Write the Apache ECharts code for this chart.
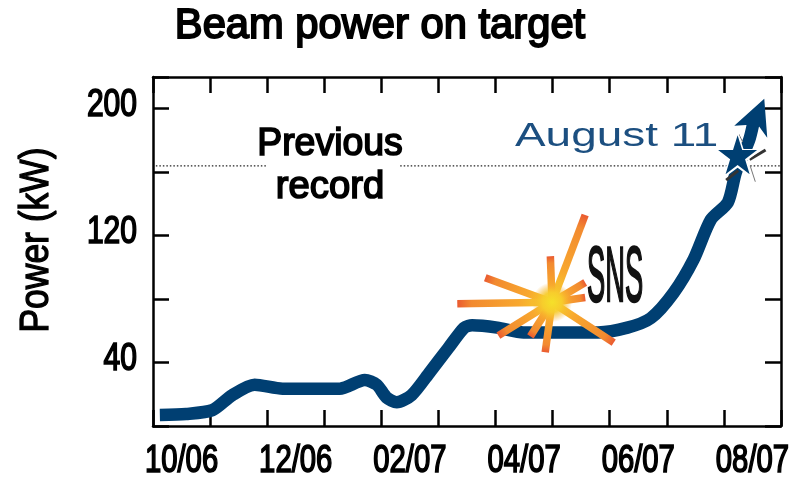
<!DOCTYPE html>
<html><head><meta charset="utf-8">
<style>html,body{margin:0;padding:0;background:#fff}#c{width:803px;height:478px}</style>
<script src="https://cdn.jsdelivr.net/npm/echarts@6/dist/echarts.min.js"></script>
</head><body><div id="c"></div>
<script>
var months = ['10/06','11/06','12/06','01/07','02/07','03/07','04/07','05/07','06/07','07/07','08/07'];
var yTickValues = [40,120,200];
var yTickLabels = ['40','120','200'];
// months since start of 10/06, power in kW
var powerX = [0.12,0.58,1.04,1.39,1.78,2.27,3.27,3.71,3.92,4.09,4.27,4.53,4.85,5.17,5.45,5.59,6.03,6.49,7.79,8.31,8.72,9.12,9.47,9.77,10.07,10.21,10.44,10.51];
var powerY = [7,7.6,10,19.5,26,23.5,23.5,29,26,18,15,19.5,34,49,62,63.5,62,59,59,62,68,84,105,130,141,160,180,190];
var recordX = [0.05,1.99,null,4.33,11];
var recordY = [164,164,null,164,164];
var arrowHead = [[10.47,194]];
var starPoint = [[10.24,171]];
var rayCenter = [6.99,78];
var rayX = [7.57,6.96,5.82,5.33,6.05,6.61,6.87,8.07,7.57,7.57];
var rayY = [133,107,93.5,77,57,56.5,46.5,52.5,81,90.5];
var shardStartX = [10.04,10.45,10.26,10.46];
var shardStartY = [155,168,184,164];
var shardEndX = [10.25,10.73,10.33,10.55];
var shardEndY = [161,174,179,154];
var shardWidth = [3,3,1,1];
var starPath = 'path://M50,0 L61.8,36.3 L100,36.3 L69.1,58.8 L80.9,95.1 L50,72.6 L19.1,95.1 L30.9,58.8 L0,36.3 L38.2,36.3 Z';
var arrowPath = 'path://M91,0 L100,100 L76,72 L36,67 L0,69 Z';
var NAVY='#003f72', SANS='"Liberation Sans",Arial,sans-serif';
var chart = echarts.init(document.getElementById('c'),null,{renderer:'canvas'});
function axisLine(){return {show:true,onZero:false,lineStyle:{color:'#000',width:2.5}};}
function ticks(){return {show:true,inside:true,length:16,lineStyle:{color:'#000',width:2.5}};}
function label(text,size,w,align){return {text:text,fill:'#000',stroke:'#000',lineWidth:w,font:size+'px '+SANS,align:align||'center',verticalAlign:'middle'};}
chart.setOption({
  animation:false,
  backgroundColor:'#fff',
  grid:{left:153,right:22,top:77,bottom:52},
  xAxis:[
    {type:'category',data:months,position:'bottom',boundaryGap:true,axisLine:axisLine(),axisTick:ticks(),axisLabel:{show:false},splitLine:{show:false}},
    {type:'value',min:0,max:11,interval:1,position:'top',axisLine:axisLine(),axisTick:ticks(),axisLabel:{show:false},splitLine:{show:false}}
  ],
  yAxis:[
    {type:'value',min:0,max:220,interval:40,position:'left',axisLine:axisLine(),axisTick:ticks(),axisLabel:{show:false},splitLine:{show:false}},
    {type:'value',min:0,max:220,interval:40,position:'right',axisLine:axisLine(),axisTick:ticks(),axisLabel:{show:false},splitLine:{show:false}}
  ],
  series:[
    {type:'custom',name:'Month labels',xAxisIndex:0,yAxisIndex:0,silent:true,z:20,
     data:months.map(function(m,i){return [i,0];}).filter(function(d){return d[0]%2===0;}),
     renderItem:function(p,api){var c=api.coord([api.value(0),0]);
       return {type:'text',x:c[0],y:c[1]+36,scaleX:0.77,style:label(months[api.value(0)],38,1.7)};}},
    {type:'custom',name:'Power labels',xAxisIndex:1,yAxisIndex:0,silent:true,z:20,
     data:yTickValues.map(function(v,i){return [0,v,i];}),
     renderItem:function(p,api){var c=api.coord([0,api.value(1)]);
       return {type:'text',x:c[0]-16,y:c[1]-3,scaleX:0.79,style:label(yTickLabels[api.value(2)],38,1.7,'right')};}},
    {type:'line',name:'Previous record',xAxisIndex:1,yAxisIndex:0,data:recordX.map(function(x,i){return x===null?null:[x,recordY[i]];}),connectNulls:false,symbol:'none',lineStyle:{color:'#222',width:1.2,type:[1.5,2]},z:2},
    {type:'line',name:'Power',xAxisIndex:1,yAxisIndex:0,data:powerX.map(function(x,i){return [x,powerY[i]];}),smooth:0.25,symbol:'none',lineStyle:{color:NAVY,width:12.5,cap:'butt',join:'round'},z:3},
    {type:'scatter',name:'Arrow',xAxisIndex:1,yAxisIndex:0,data:arrowHead,symbol:arrowPath,symbolSize:[33,39],itemStyle:{color:NAVY,opacity:1},z:4},
    {type:'custom',name:'SNS burst',xAxisIndex:1,yAxisIndex:0,z:5,
     data:rayX.map(function(x,i){return [x,rayY[i]];}),
     renderItem:function(p,api){
       var c=api.coord(rayCenter), e=api.coord([api.value(0),api.value(1)]);
       return {type:'line',shape:{x1:c[0],y1:c[1],x2:e[0],y2:e[1]},style:{lineWidth:7.5,stroke:{type:'linear',x:c[0],y:c[1],x2:e[0],y2:e[1],global:true,colorStops:[{offset:0,color:'#f6d92c'},{offset:0.35,color:'#f8a82e'},{offset:0.85,color:'#f28a30'},{offset:1,color:'#ea5a30'}]}}};
     }},
    {type:'scatter',name:'Burst core',xAxisIndex:1,yAxisIndex:0,data:[rayCenter],symbol:'circle',symbolSize:40,z:6,
     itemStyle:{opacity:1,color:{type:'radial',x:0.5,y:0.5,r:0.5,colorStops:[{offset:0,color:'#f5e02a'},{offset:0.5,color:'rgba(247,205,44,0.95)'},{offset:1,color:'rgba(247,170,44,0)'}]}}},
    {type:'custom',name:'Star shards',xAxisIndex:1,yAxisIndex:0,z:7,
     data:shardStartX.map(function(x,i){return [x,shardStartY[i],shardEndX[i],shardEndY[i],shardWidth[i]];}),
     renderItem:function(p,api){var a=api.coord([api.value(0),api.value(1)]),b=api.coord([api.value(2),api.value(3)]);
       return {type:'line',shape:{x1:a[0],y1:a[1],x2:b[0],y2:b[1]},style:{stroke:api.value(4)>2?'#333':'#777',lineWidth:api.value(4)}};}},
    {type:'scatter',name:'Star outline',xAxisIndex:1,yAxisIndex:0,data:starPoint,symbol:starPath,symbolSize:[50,49],itemStyle:{color:'#fff',opacity:1},z:8},
    {type:'scatter',name:'August 11 star',xAxisIndex:1,yAxisIndex:0,data:starPoint,symbol:starPath,symbolSize:[39,39],itemStyle:{color:NAVY,opacity:1},z:9}
  ],
  graphic:[
    {type:'text',x:380,y:26,scaleX:0.97,z:20,style:label('Beam power on target',43,1.9)},
    {type:'text',x:37,y:240,rotation:Math.PI/2,scaleX:0.865,z:20,style:label('Power (kW)',41,1.3)},
    {type:'text',x:330,y:144,scaleX:0.96,z:20,style:label('Previous',39,1.7)},
    {type:'text',x:330,y:187,scaleX:0.98,z:20,style:label('record',39,1.7)},
    {type:'text',x:515,y:137,scaleX:1.35,z:20,style:{text:'August 11',fill:'#1c4f80',font:'34px '+SANS,align:'left',verticalAlign:'middle'}},
    {type:'text',x:587,y:279,scaleX:0.35,z:20,style:{text:'SNS',fill:'#111',stroke:'#111',lineWidth:2.5,font:'78px '+SANS,align:'left',verticalAlign:'middle'}}
  ]
});
</script></body></html>
